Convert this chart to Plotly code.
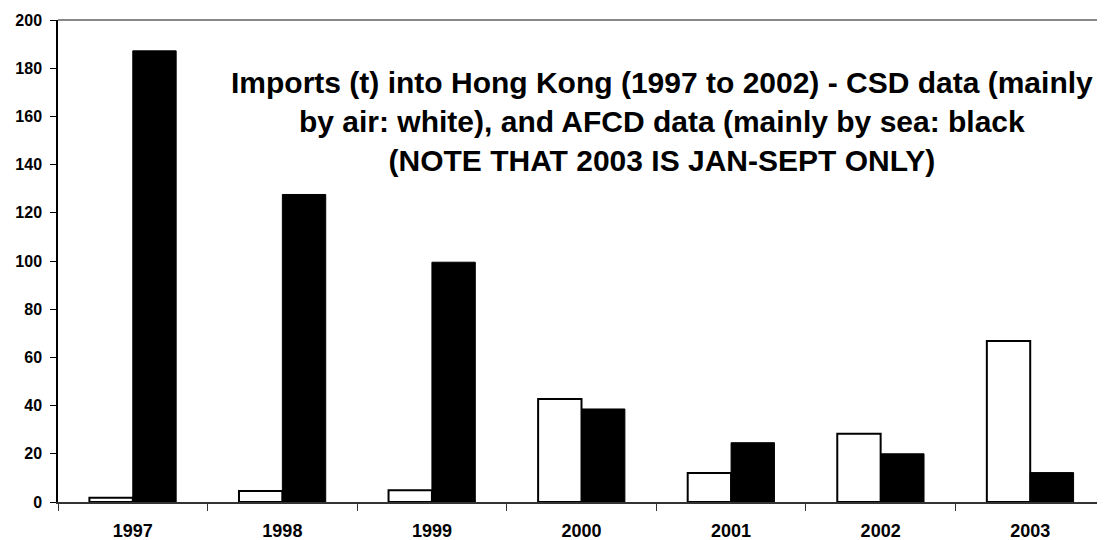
import plotly.graph_objects as go

years = ["1997", "1998", "1999", "2000", "2001", "2002", "2003"]
csd_air = [1.8, 4.6, 4.9, 42.7, 12.0, 28.3, 66.8]
afcd_sea = [187.2, 127.6, 99.5, 38.6, 24.6, 20.0, 12.2]
y_ticks = [0, 20, 40, 60, 80, 100, 120, 140, 160, 180, 200]

title_text = ("Imports (t) into Hong Kong (1997 to 2002) - CSD data (mainly<br>"
              "by air: white), and AFCD data (mainly by sea: black<br>"
              "(NOTE THAT 2003 IS JAN-SEPT ONLY)")

fig = go.Figure()
fig.add_trace(go.Bar(x=years, y=csd_air, name="CSD (air)",
                     marker=dict(color="white", line=dict(color="black", width=2))))
fig.add_trace(go.Bar(x=years, y=afcd_sea, name="AFCD (sea)",
                     marker=dict(color="black", line=dict(color="black", width=1))))

font_family = "Liberation Sans, Arial, sans-serif"
fig.update_layout(
    width=1105, height=540,
    margin=dict(l=50, r=8, t=12, b=46, autoexpand=False),
    paper_bgcolor="white", plot_bgcolor="white",
    barmode="group", bargap=0.42, bargroupgap=0,
    showlegend=False,
    font=dict(family=font_family, color="black"),
    xaxis=dict(type="category", showline=True, linecolor="#333", linewidth=1.5,
               ticks="outside", tickson="boundaries", ticklen=7, tickcolor="#333",
               tickwidth=1, showgrid=False, automargin=False, ticklabelstandoff=12,
               tickfont=dict(family=font_family, size=18, color="black", weight="bold")),
    yaxis=dict(range=[0, 200], tickvals=y_ticks, showline=True, linecolor="black",
               linewidth=1.5, ticks="outside", ticklen=6, tickcolor="black",
               showgrid=False, zeroline=False, automargin=False, ticklabelstandoff=5,
               tickfont=dict(family=font_family, size=16, color="black", weight="bold")),
    shapes=[dict(type="line", xref="paper", yref="paper", x0=0, x1=1, y0=1, y1=1,
                 line=dict(color="#888888", width=2))],
    annotations=[dict(text="<b>" + title_text + "</b>", xref="paper", yref="paper",
                      x=0.577, y=0.79, xanchor="center", yanchor="middle",
                      showarrow=False, align="center",
                      font=dict(family=font_family, size=30, color="black"))],
)

fig.write_html("out.html")
